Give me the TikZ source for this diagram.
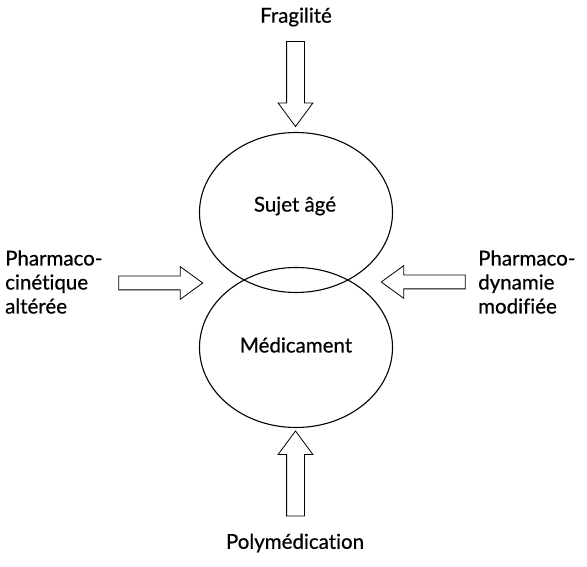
\documentclass[tikz,border=0pt]{standalone}
\usepackage{fontspec}
\setmainfont{Lato}[FakeBold=0.6,AutoFakeBold=0.6,Ligatures=NoCommon,RawFeature={-calt;-clig;-dlig}]
\usetikzlibrary{shapes.geometric,shapes.arrows,positioning}

\tikzset{
	bulle/.style={draw, ellipse, line width=1.1pt, minimum width=193pt, minimum height=160pt, inner sep=0pt},
	fleche/.style={draw, single arrow, line width=0.8pt, inner xsep=0pt, inner ysep=8.5pt, single arrow tip angle=73, single arrow head extend=8.5pt, minimum height=85pt},
	flechelat/.style={draw, single arrow, line width=0.8pt, inner xsep=0pt, inner ysep=6.5pt, single arrow tip angle=72, single arrow head extend=9.5pt, minimum height=84pt},
	etiq/.style={font=\fontsize{20.5}{24}\selectfont\bfseries, inner sep=0pt, align=left}
}

\begin{document}
\begin{tikzpicture}[x=1pt,y=1pt]
		\useasboundingbox (0,0) rectangle (587,567);

		% les deux ellipses
		\node[bulle] (sujet) at (296,354.5) {};
		\node[bulle] (medic) at (296,219.5) {};
		\node[etiq] (tsujet) at (295,361) {Sujet âgé};
		\node[etiq] (tmedic) at (296,222) {Médicament};

		% facteurs
		\node[etiq] (fragil) at (296,550) {Fragilité};
		\node[etiq] (poly) at (295,24) {Polymédication};
		\node[etiq, anchor=west] (cinet) at (5,285) {Pharmaco-\\cinétique\\altérée};
		\node[etiq, anchor=west] (dynam) at (478,285) {Pharmaco-\\dynamie\\modifiée};

		% fleches
		\node[fleche, rotate=-90] (arrfrag) at (295.5,489) {};
		\node[fleche, rotate=90] (arrpoly) at (295.5,87.5) {};
		\node[flechelat] (arrcinet) at (156,284) {};
		\node[flechelat, rotate=180] (arrdynam) at (428,285) {};
	\end{tikzpicture}
\end{document}
